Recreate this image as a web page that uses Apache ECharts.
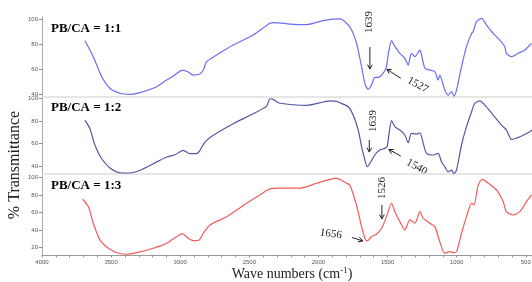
<!DOCTYPE html>
<html>
<head>
<meta charset="utf-8">
<script src="https://cdn.jsdelivr.net/npm/echarts@6/dist/echarts.min.js"></script>
<style>
  html, body { margin: 0; padding: 0; background: #fff; }
  #chart { width: 532px; height: 282px; }
</style>
</head>
<body>
<div id="chart"></div>
<script>
// wave numbers (cm-1) and % transmittance
var wn11 = [3689,3629,3568,3508,3436,3364,3291,3170,3098,3050,2983,2942,2906,2862,2833,2809,2737,2617,2472,2351,2315,2206,2086,1966,1893,1845,1796,1760,1724,1688,1664,1640,1616,1592,1568,1532,1508,1496,1471,1447,1411,1375,1351,1327,1302,1266,1254,1230,1194,1158,1134,1122,1086,1062,1037,1020,1001,965,929,892,881,856,820,784,736,688,652,640,603,555,507,471,455];
var t11  = [82.9,70.1,54.1,44.8,40.8,40,41.3,46.1,51.4,54.6,59.4,57.8,55.4,56,59.4,66.1,71.4,79.4,87.4,96.8,97.3,96.2,95.7,98.9,100.2,100.3,96.8,91.4,80.8,62.1,48.8,44,47.4,53.6,53.6,56.8,62.1,71.4,82.9,78.1,72.8,68.8,63.4,72.8,70.1,75.4,71.4,60.8,59.4,58.1,51.4,55.4,43.4,39.4,42.1,38.6,43.4,62.1,78.1,88.8,90.1,98.1,100.8,95.4,88.8,83.4,78.1,72.8,70.1,72.8,75.4,79.4,80.5];

var wn12 = [3689,3653,3617,3568,3508,3436,3364,3291,3195,3098,3038,2978,2929,2881,2857,2821,2761,2617,2472,2375,2351,2327,2291,2183,2086,1966,1917,1869,1845,1785,1749,1712,1688,1664,1647,1628,1592,1556,1520,1503,1489,1471,1447,1411,1375,1351,1327,1291,1266,1242,1218,1170,1134,1110,1086,1062,1037,1020,1001,965,929,892,869,832,796,736,676,640,603,543,471,455];
var t12  = [80.6,73.2,58.4,46.5,38.2,34,33.8,36.2,42,48,50,54,51,51,54,61.3,67.3,77.6,86.5,93.3,99.8,99.3,96.3,94.5,94,96.9,98,97.5,96.3,92.7,85.3,72,57.2,45.3,39.4,42.4,49.8,54.2,55.7,57.2,69.1,80.3,75,72,67.6,60.7,69.1,68.4,69.6,60.1,51.3,49.8,51.3,43.8,39.4,34.9,36.4,33.2,36.4,58.7,75,88.3,95.7,98,94.2,85.3,76.4,72,63.7,66,70.5,72];

var wn13 = [3706,3665,3629,3581,3520,3448,3388,3315,3195,3098,2983,2942,2906,2862,2833,2785,2664,2520,2424,2351,2279,2134,2013,1917,1869,1796,1773,1724,1688,1664,1647,1616,1580,1543,1508,1471,1447,1411,1375,1338,1302,1266,1242,1194,1158,1134,1122,1086,1049,1025,1001,965,929,892,875,844,815,771,712,664,640,592,543,495,459];
var t13  = [75.1,66.7,47.6,28.6,19.1,13.4,12.2,14.1,19.1,24.8,35.4,30.5,27.8,28.6,36.2,45.7,55.2,70.5,80,86.9,87.7,87.7,93.4,97.9,99,93.4,91.4,68,43.8,30.5,27.4,32.4,35.1,41.9,55.2,70.5,60.9,49.5,40,51.4,47.7,60.9,53.4,47.7,43.8,32.3,26.6,13.4,15.2,14.1,15.2,36.2,55.2,70.5,68.6,91.4,97.9,93.4,85.7,72.4,60.9,57.1,60.9,72.4,80];

var panelNames = ['PB/CA = 1:1', 'PB/CA = 1:2', 'PB/CA = 1:3'];
var lineColors = ['#6c6cf4', '#5656a8', '#f45a5a'];
var yMins = [38, 33, 11];
var yMaxs = [102, 102, 103.5];
var yTickLabels = [[40, 60, 80, 100], [40, 60, 80, 100], [20, 40, 60, 80, 100]];
var xTickLabels = [4000, 3500, 3000, 2500, 2000, 1500, 1000, 500];

// peak annotations: [panel, text, wn, %T, rotation]
var peakTexts = [
    [0, '1639', 1635, 97.8, Math.PI / 2],
    [0, '1527', 1281, 47.4, -0.5],
    [1, '1639', 1606, 80, Math.PI / 2],
    [1, '1540', 1288, 39.1, -0.5],
    [2, '1526', 1541, 88, Math.PI / 2],
    [2, '1656', 1910, 35.4, -0.14]
];
// arrows: [panel, fromWn, fromT, toWn, toT]
var peakArrows = [
    [0, 1628, 77.8, 1628, 60.2],
    [0, 1404, 52.8, 1505, 60],
    [1, 1632, 63.1, 1632, 52.4],
    [1, 1404, 48.9, 1491, 54.7],
    [2, 1541, 68.6, 1541, 52.6],
    [2, 1758, 31.4, 1679, 27.4]
];

function zip(a, b) {
    return a.map(function (v, i) { return [v, b[i]]; });
}
function range(a, b, step) {
    var out = [];
    for (var v = a; v <= b; v += step) out.push(v);
    return out;
}

var spectra = [zip(wn11, t11), zip(wn12, t12), zip(wn13, t13)];
var gridBoxes = [
    {top: 16.8, height: 80},
    {top: 96.3, height: 77.6},
    {top: 174.4, height: 80.9}
];

var grids = [], xAxes = [], yAxes = [], series = [];
gridBoxes.forEach(function (g, i) {
    grids.push({left: 42, right: 0, top: g.top, height: g.height, outerBoundsMode: 'none'});
    var last = i === 2;
    xAxes.push({
        type: 'value', gridIndex: i, min: 455, max: 4000, inverse: true,
        axisLine: {show: true, lineStyle: {color: last ? '#9a9a9a' : '#dedede', width: last ? 1 : 1.5}},
        axisTick: {show: last, length: 2, lineStyle: {color: '#888'}, customValues: range(500, 4000, 100)},
        axisLabel: {show: last, customValues: xTickLabels, fontSize: 6, color: '#555', margin: 4, fontFamily: 'Arial',
            formatter: function (v) { return String(v); }},
        splitLine: {show: false}
    });
    yAxes.push({
        type: 'value', gridIndex: i, min: yMins[i], max: yMaxs[i],
        axisLine: {show: true, lineStyle: {color: '#aaa'}},
        axisTick: {show: true, length: 3, lineStyle: {color: '#888'}, customValues: yTickLabels[i]},
        axisLabel: {customValues: yTickLabels[i], fontSize: 6, color: '#555', margin: 4, fontFamily: 'Arial'},
        splitLine: {show: false}
    });
    series.push({
        type: 'line', xAxisIndex: i, yAxisIndex: i,
        data: spectra[i], showSymbol: false, smooth: 0.25,
        lineStyle: {color: lineColors[i], width: 1.2},
        silent: true, animation: false
    });
});
// minor ticks on the y axes
gridBoxes.forEach(function (g, i) {
    yAxes.push({
        type: 'value', gridIndex: i, min: yMins[i], max: yMaxs[i],
        axisLine: {show: false},
        axisTick: {show: true, length: 1.5, lineStyle: {color: '#aaa'},
            customValues: range(Math.ceil(yMins[i] / 5) * 5, yMaxs[i], 5)},
        axisLabel: {show: false},
        splitLine: {show: false}
    });
});

var myChart = echarts.init(document.getElementById('chart'), null, {renderer: 'canvas'});
myChart.setOption({
    animation: false,
    backgroundColor: '#fff',
    grid: grids,
    xAxis: xAxes,
    yAxis: yAxes,
    series: series
});

var serif = '"Liberation Serif", "Times New Roman", serif';
var graphics = [];
var titleTops = [22, 101, 179];
panelNames.forEach(function (name, i) {
    graphics.push({
        type: 'text', left: 51, top: titleTops[i],
        style: {text: name, font: 'bold 13px ' + serif, fill: '#000'}
    });
});
peakTexts.forEach(function (p) {
    var pt = myChart.convertToPixel({gridIndex: p[0]}, [p[2], p[3]]);
    graphics.push({
        type: 'text', x: pt[0], y: pt[1], rotation: p[4],
        style: {text: p[1], font: '11px ' + serif, fill: '#222', align: 'center', verticalAlign: 'middle'}
    });
});
peakArrows.forEach(function (a) {
    var p0 = myChart.convertToPixel({gridIndex: a[0]}, [a[1], a[2]]);
    var p1 = myChart.convertToPixel({gridIndex: a[0]}, [a[3], a[4]]);
    var ang = Math.atan2(p1[1] - p0[1], p1[0] - p0[0]);
    var h = 5, spread = 0.5;
    graphics.push({type: 'line', shape: {x1: p0[0], y1: p0[1], x2: p1[0], y2: p1[1]},
        style: {stroke: '#222', lineWidth: 1}});
    graphics.push({type: 'polyline', shape: {points: [
        [p1[0] - h * Math.cos(ang - spread), p1[1] - h * Math.sin(ang - spread)],
        [p1[0], p1[1]],
        [p1[0] - h * Math.cos(ang + spread), p1[1] - h * Math.sin(ang + spread)]
    ]}, style: {stroke: '#222', lineWidth: 1, fill: null}});
});
graphics.push({
    type: 'text', x: 15, y: 165, rotation: Math.PI / 2,
    style: {text: '% Transmittance', font: '16px ' + serif, fill: '#222', align: 'center', verticalAlign: 'middle'}
});
graphics.push({
    type: 'text', x: 292, y: 274,
    style: {
        text: '{n|Wave numbers (cm}{s|-1}{n|)}',
        align: 'center', verticalAlign: 'middle',
        rich: {
            n: {font: '14px ' + serif, fill: '#222'},
            s: {font: '9px ' + serif, fill: '#222', verticalAlign: 'top', padding: [0, 0, 6, 0]}
        }
    }
});
myChart.setOption({graphic: graphics});
</script>
</body>
</html>
